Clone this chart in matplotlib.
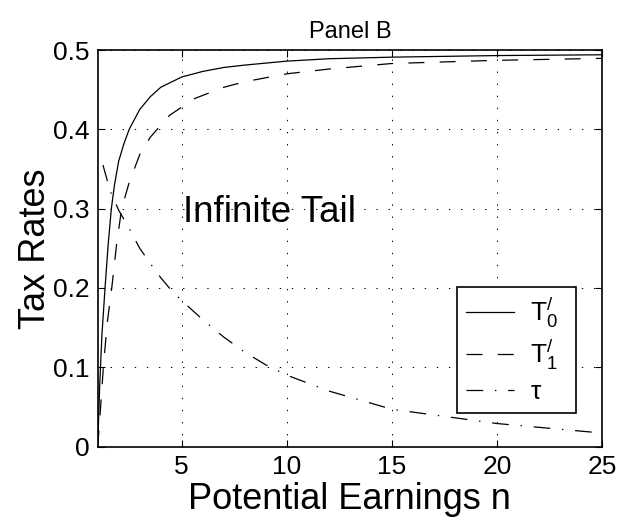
import matplotlib
matplotlib.use("Agg")
import matplotlib.pyplot as plt
import numpy as np

plt.rcParams['font.family'] = ['Liberation Sans', 'DejaVu Sans']
plt.rcParams['mathtext.fontset'] = 'custom'
plt.rcParams['mathtext.rm'] = 'Liberation Sans'
plt.rcParams['mathtext.it'] = 'Liberation Sans'
plt.rcParams['lines.scale_dashes'] = False

# Data
n_T0 = [1, 1.1, 1.2, 1.35, 1.5, 1.65, 1.8, 2.0, 2.25, 2.5, 3.0, 3.5, 4.0, 5.0, 6.0, 7.0, 8.0, 10.0, 12.0, 15.0, 20.0, 25.0]
T0 = [0.0, 0.08, 0.14, 0.2, 0.255, 0.3, 0.33, 0.36, 0.382, 0.4, 0.425, 0.441, 0.453, 0.466, 0.473, 0.478, 0.481, 0.486, 0.489, 0.491, 0.493, 0.494]

n_T1 = [1, 1.1, 1.27, 1.45, 1.67, 1.9, 2.14, 2.5, 3.0, 3.5, 4.0, 4.44, 5.0, 5.63, 7.0, 8.0, 10.0, 12.0, 15.0, 20.0, 25.0]
T1 = [0.0, 0.035, 0.1, 0.155, 0.2, 0.255, 0.3, 0.333, 0.368, 0.39, 0.405, 0.418, 0.428, 0.439, 0.453, 0.46, 0.47, 0.476, 0.483, 0.487, 0.4895]

n_tau = [1.25, 1.6, 2.0, 2.5, 3.0, 3.5, 4.0, 4.5, 5.0, 6.0, 7.0, 8.0, 9.0, 10.0, 12.0, 15.0, 20.0, 25.0]
tau = [0.355, 0.322, 0.298, 0.275, 0.25, 0.231, 0.213, 0.197, 0.184, 0.16, 0.138, 0.119, 0.103, 0.09, 0.07, 0.047, 0.029, 0.017]

xticks = [5, 10, 15, 20, 25]
yticks = [0, 0.1, 0.2, 0.3, 0.4, 0.5]
ytick_labels = ['0', '0.1', '0.2', '0.3', '0.4', '0.5']
labels = [r"$\mathregular{T^{/}_{0}}$", r"$\mathregular{T^{/}_{1}}$", r"$\mathregular{\tau}$"]

fig = plt.figure(figsize=(6.29, 5.31), dpi=100)
ax = fig.add_axes([0.1553, 0.1591, 0.957 - 0.1553, 0.9058 - 0.1591])

lw = 0.9
ax.plot(n_T0, T0, color='black', lw=lw, linestyle='-', label=labels[0])
ax.plot(n_T1, T1, color='black', lw=lw, linestyle=(0, (11.5, 11)), label=labels[1])
ax.plot(n_tau, tau, color='black', lw=lw, linestyle=(0, (12, 8.5, 1, 8.5)), label=labels[2])

ax.set_xlim(1, 25)
ax.set_ylim(0, 0.5)
ax.set_xticks(xticks)
ax.set_yticks(yticks)
ax.set_yticklabels(ytick_labels)
ax.tick_params(direction='in', top=True, right=True, labelsize=19, length=5, width=0.8, pad=6)
ax.grid(True, color='black', linestyle=(0, (1, 7.7)), linewidth=0.7)
for s in ax.spines.values():
    s.set_linewidth(1.2)

ax.set_xlabel('Potential Earnings n', fontsize=26, labelpad=2)
ax.set_ylabel('Tax Rates', fontsize=26, labelpad=0)
ax.set_title('Panel B', fontsize=17, pad=9)

ax.text(5.05, 0.2834, 'Infinite Tail', fontsize=26.5, ha='left', va='baseline')

leg = ax.legend(loc='lower left', bbox_to_anchor=(0.7125, 0.0845, 0.2355, 0.3305),
                mode='expand', borderaxespad=0,
                fontsize=19, handlelength=1.8, frameon=True, fancybox=False,
                edgecolor='black', framealpha=1, labelspacing=0.3, borderpad=0.35,
                handletextpad=0.6)
leg.get_frame().set_linewidth(1.2)

fig.savefig('out.png', dpi=100)
